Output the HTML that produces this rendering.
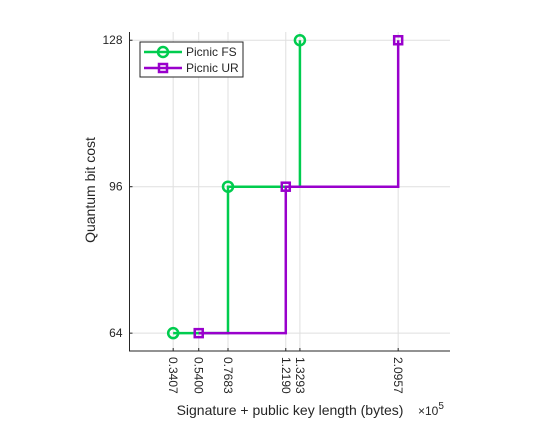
<!DOCTYPE html>
<html><head><meta charset="utf-8"><style>
body{margin:0;background:#fff;}
svg text{font-family:"Liberation Sans",sans-serif;fill:#262626;}
</style></head><body>
<svg id="chart" width="560" height="420" viewBox="0 0 560 420" xmlns="http://www.w3.org/2000/svg">
<g id="grid"></g>
<g id="series"></g>
<g id="axes"></g>
<text transform="translate(95,190) rotate(-90)" text-anchor="middle" font-size="14">Quantum bit cost</text>
<text x="290" y="415" text-anchor="middle" font-size="14">Signature + public key length (bytes)</text>
<text x="418" y="415" font-size="12">×10<tspan dy="-6" font-size="10">5</tspan></text>
<g>
<rect x="140" y="42" width="103" height="35" fill="#fff" stroke="#262626" stroke-width="1"/>
<g>
<line x1="144" y1="52" x2="182" y2="52" stroke="#00cc4e" stroke-width="2.5"/>
<circle cx="163" cy="52" r="5" fill="none" stroke="#00cc4e" stroke-width="2.5"/>
<text x="186" y="56" font-size="12">Picnic FS</text></g>
<g>
<line x1="144" y1="68" x2="182" y2="68" stroke="#9900cc" stroke-width="2.5"/>
<rect x="159" y="64" width="8" height="8" fill="none" stroke="#9900cc" stroke-width="2.5"/>
<text x="186" y="72" font-size="12">Picnic UR</text></g>
</g>
</svg>
<script>
const fsX=[0.3407,0.7683,1.3293];
const fsY=[64,96,128];
const urX=[0.5400,1.2190,2.0957];
const urY=[64,96,128];
const xTicks=[0.3407,0.5400,0.7683,1.2190,1.3293,2.0957];
const xTickLabels=["0.3407","0.5400","0.7683","1.2190","1.3293","2.0957"];
const yTicks=[64,96,128];
const NS="http://www.w3.org/2000/svg";
const L=129.5,R=450,T=32,B=351,xMin=0,xMax=2.5,yMin=60.1,yMax=129.8;
const sx=v=>L+(v-xMin)/(xMax-xMin)*(R-L);
const sy=v=>B-(v-yMin)/(yMax-yMin)*(B-T);
function mk(t,a,p){const e=document.createElementNS(NS,t);for(const k in a)e.setAttribute(k,a[k]);p.appendChild(e);return e;}
const grid=document.getElementById('grid'),axes=document.getElementById('axes'),ser=document.getElementById('series');
xTicks.forEach((v,i)=>{
 const g=mk('line',{x1:sx(v),x2:sx(v),y1:T,y2:B,stroke:'#dfdfdf','stroke-width':1},grid);
 
 
 const tk=mk('line',{x1:sx(v),x2:sx(v),y1:B,y2:B-3,stroke:'#262626'},axes);
 
 
 const t=mk('text',{transform:`translate(${sx(v)-4},${B+6}) rotate(90)`,'font-size':12},axes);
 t.textContent=xTickLabels[i];
 
 
});
yTicks.forEach(v=>{
 const g=mk('line',{x1:L,x2:R,y1:sy(v),y2:sy(v),stroke:'#dfdfdf','stroke-width':1},grid);
 
 
 const tk=mk('line',{x1:L,x2:L+3,y1:sy(v),y2:sy(v),stroke:'#262626'},axes);
 
 
 const t=mk('text',{x:L-7,y:sy(v)+4,'text-anchor':'end','font-size':12},axes);
 t.textContent=v;
 
 
});
const ax=mk('path',{d:`M${L},${T}V${B}H${R}`,fill:'none',stroke:'#262626','stroke-width':1},axes);


function stairs(xs,ys){let d=`M${sx(xs[0])},${sy(ys[0])}`;for(let i=1;i<xs.length;i++){d+=`H${sx(xs[i])}V${sy(ys[i])}`;}return d;}
const p1=mk('path',{d:stairs(fsX,fsY),fill:'none',stroke:'#00cc4e','stroke-width':2.5},ser);


const p2=mk('path',{d:stairs(urX,urY),fill:'none',stroke:'#9900cc','stroke-width':2.5},ser);


fsX.forEach((v,i)=>{const c=mk('circle',{cx:sx(v),cy:sy(fsY[i]),r:5,fill:'none',stroke:'#00cc4e','stroke-width':2.5},ser);
 
 });
urX.forEach((v,i)=>{const r=mk('rect',{x:sx(v)-4,y:sy(urY[i])-4,width:8,height:8,fill:'none',stroke:'#9900cc','stroke-width':2.5},ser);
 
 });
</script>
</body></html>
